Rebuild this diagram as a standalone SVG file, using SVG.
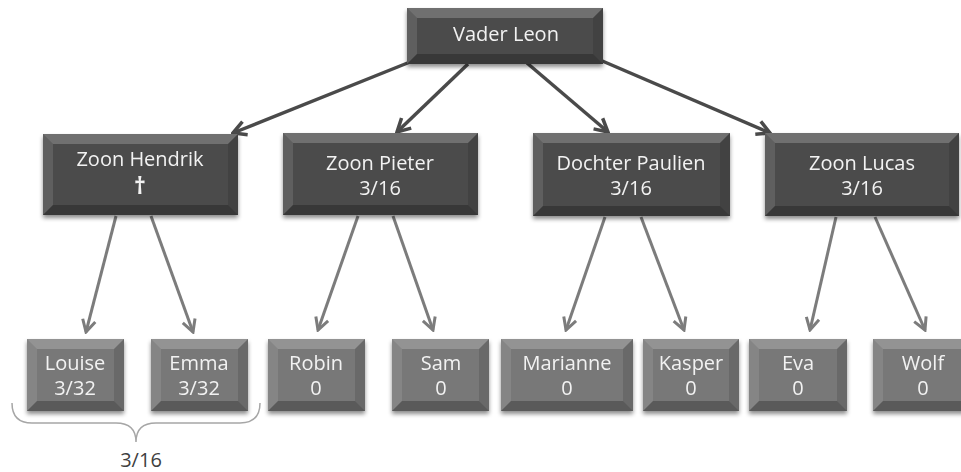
<svg xmlns="http://www.w3.org/2000/svg" width="961" height="472" viewBox="0 0 961 472">
<style>
.t1{fill:#4c4c4c}
.t2{fill:#787878}
.bt{fill:#fff;fill-opacity:0.2}
.bl{fill:#fff;fill-opacity:0.1}
.br{fill:#000;fill-opacity:0.12}
.bb{fill:#000;fill-opacity:0.25}
.lbl{font-family:"Open Sans","Noto Sans","DejaVu Sans",sans-serif;font-size:20px;fill:#f2f2f2;text-anchor:middle}
.c1{stroke:#4a4a4a;stroke-width:3.5;fill:none;marker-end:url(#a1)}
.c2{stroke:#7c7c7c;stroke-width:3;fill:none;marker-end:url(#a2)}
</style>
<defs>
<filter id="sh" x="-10%" y="-10%" width="120%" height="140%">
<feDropShadow dx="0" dy="3" stdDeviation="2" flood-color="#000" flood-opacity="0.45"/>
</filter>
<marker id="a1" viewBox="-16 -9 18 18" markerWidth="18" markerHeight="18" refX="0" refY="0" orient="auto" markerUnits="userSpaceOnUse">
<path d="M-13,-7 L0,0 L-13,7" fill="none" stroke="#4a4a4a" stroke-width="3.5"/>
</marker>
<marker id="a2" viewBox="-16 -9 18 18" markerWidth="18" markerHeight="18" refX="0" refY="0" orient="auto" markerUnits="userSpaceOnUse">
<path d="M-12,-6.5 L0,0 L-12,6.5" fill="none" stroke="#7c7c7c" stroke-width="3"/>
</marker>
</defs>
<rect width="961" height="472" fill="#fff"/>

<g id="connectors">
<line class="c1" x1="410" y1="62" x2="233" y2="133"/>
<line class="c1" x1="468" y1="64" x2="397" y2="132"/>
<line class="c1" x1="527" y1="63" x2="608" y2="132"/>
<line class="c1" x1="600" y1="60" x2="770" y2="133"/>
<line class="c2" x1="116" y1="216" x2="86" y2="332"/>
<line class="c2" x1="151" y1="216" x2="193" y2="332"/>
<line class="c2" x1="358" y1="216" x2="318" y2="330"/>
<line class="c2" x1="393" y1="216" x2="433" y2="330"/>
<line class="c2" x1="605" y1="217" x2="566" y2="330"/>
<line class="c2" x1="641" y1="217" x2="684" y2="330"/>
<line class="c2" x1="836" y1="217" x2="810" y2="330"/>
<line class="c2" x1="875" y1="217" x2="925" y2="330"/>
</g>

<g id="vader" filter="url(#sh)">
<rect class="t1" x="407" y="8" width="196" height="56"/>
<polygon class="bt" points="407,8 603,8 593,18 417,18"/>
<polygon class="bl" points="407,8 417,18 417,54 407,64"/>
<polygon class="br" points="603,8 603,64 593,54 593,18"/>
<polygon class="bb" points="407,64 417,54 593,54 603,64"/>
<text class="lbl" x="506" y="41">Vader Leon</text>
</g>

<g id="hendrik" filter="url(#sh)">
<rect class="t1" x="43" y="134" width="195" height="81"/>
<polygon class="bt" points="43,134 238,134 228,144 53,144"/>
<polygon class="bl" points="43,134 53,144 53,205 43,215"/>
<polygon class="br" points="238,134 238,215 228,205 228,144"/>
<polygon class="bb" points="43,215 53,205 228,205 238,215"/>
<text class="lbl" x="140" y="166">Zoon Hendrik</text>
<text class="lbl" x="140" y="194" style="font-weight:bold;font-size:23px">†</text>
</g>

<g id="pieter" filter="url(#sh)">
<rect class="t1" x="283" y="133" width="195" height="82"/>
<polygon class="bt" points="283,133 478,133 468,143 293,143"/>
<polygon class="bl" points="283,133 293,143 293,205 283,215"/>
<polygon class="br" points="478,133 478,215 468,205 468,143"/>
<polygon class="bb" points="283,215 293,205 468,205 478,215"/>
<text class="lbl" x="380" y="170">Zoon Pieter</text>
<text class="lbl" x="380" y="195">3/16</text>
</g>

<g id="paulien" filter="url(#sh)">
<rect class="t1" x="533" y="133" width="197" height="83"/>
<polygon class="bt" points="533,133 730,133 720,143 543,143"/>
<polygon class="bl" points="533,133 543,143 543,206 533,216"/>
<polygon class="br" points="730,133 730,216 720,206 720,143"/>
<polygon class="bb" points="533,216 543,206 720,206 730,216"/>
<text class="lbl" x="631" y="170">Dochter Paulien</text>
<text class="lbl" x="631" y="195">3/16</text>
</g>

<g id="lucas" filter="url(#sh)">
<rect class="t1" x="765" y="133" width="194" height="83"/>
<polygon class="bt" points="765,133 959,133 949,143 775,143"/>
<polygon class="bl" points="765,133 775,143 775,206 765,216"/>
<polygon class="br" points="959,133 959,216 949,206 949,143"/>
<polygon class="bb" points="765,216 775,206 949,206 959,216"/>
<text class="lbl" x="862" y="170">Zoon Lucas</text>
<text class="lbl" x="862" y="195">3/16</text>
</g>

<g id="louise" filter="url(#sh)">
<rect class="t2" x="27" y="339" width="97" height="72"/>
<polygon class="bt" points="27,339 124,339 114,349 37,349"/>
<polygon class="bl" points="27,339 37,349 37,401 27,411"/>
<polygon class="br" points="124,339 124,411 114,401 114,349"/>
<polygon class="bb" points="27,411 37,401 114,401 124,411"/>
<text class="lbl" x="75" y="370">Louise</text>
<text class="lbl" x="75" y="395">3/32</text>
</g>

<g id="emma" filter="url(#sh)">
<rect class="t2" x="151" y="339" width="97" height="72"/>
<polygon class="bt" points="151,339 248,339 238,349 161,349"/>
<polygon class="bl" points="151,339 161,349 161,401 151,411"/>
<polygon class="br" points="248,339 248,411 238,401 238,349"/>
<polygon class="bb" points="151,411 161,401 238,401 248,411"/>
<text class="lbl" x="199" y="370">Emma</text>
<text class="lbl" x="199" y="395">3/32</text>
</g>

<g id="robin" filter="url(#sh)">
<rect class="t2" x="268" y="339" width="97" height="72"/>
<polygon class="bt" points="268,339 365,339 355,349 278,349"/>
<polygon class="bl" points="268,339 278,349 278,401 268,411"/>
<polygon class="br" points="365,339 365,411 355,401 355,349"/>
<polygon class="bb" points="268,411 278,401 355,401 365,411"/>
<text class="lbl" x="316" y="370">Robin</text>
<text class="lbl" x="316" y="395">0</text>
</g>

<g id="sam" filter="url(#sh)">
<rect class="t2" x="392" y="339" width="97" height="72"/>
<polygon class="bt" points="392,339 489,339 479,349 402,349"/>
<polygon class="bl" points="392,339 402,349 402,401 392,411"/>
<polygon class="br" points="489,339 489,411 479,401 479,349"/>
<polygon class="bb" points="392,411 402,401 479,401 489,411"/>
<text class="lbl" x="441" y="370">Sam</text>
<text class="lbl" x="441" y="395">0</text>
</g>

<g id="marianne" filter="url(#sh)">
<rect class="t2" x="501" y="339" width="132" height="72"/>
<polygon class="bt" points="501,339 633,339 623,349 511,349"/>
<polygon class="bl" points="501,339 511,349 511,401 501,411"/>
<polygon class="br" points="633,339 633,411 623,401 623,349"/>
<polygon class="bb" points="501,411 511,401 623,401 633,411"/>
<text class="lbl" x="567" y="370">Marianne</text>
<text class="lbl" x="567" y="395">0</text>
</g>

<g id="kasper" filter="url(#sh)">
<rect class="t2" x="643" y="339" width="96" height="72"/>
<polygon class="bt" points="643,339 739,339 729,349 653,349"/>
<polygon class="bl" points="643,339 653,349 653,401 643,411"/>
<polygon class="br" points="739,339 739,411 729,401 729,349"/>
<polygon class="bb" points="643,411 653,401 729,401 739,411"/>
<text class="lbl" x="691" y="370">Kasper</text>
<text class="lbl" x="691" y="395">0</text>
</g>

<g id="eva" filter="url(#sh)">
<rect class="t2" x="749" y="339" width="98" height="72"/>
<polygon class="bt" points="749,339 847,339 837,349 759,349"/>
<polygon class="bl" points="749,339 759,349 759,401 749,411"/>
<polygon class="br" points="847,339 847,411 837,401 837,349"/>
<polygon class="bb" points="749,411 759,401 837,401 847,411"/>
<text class="lbl" x="798" y="370">Eva</text>
<text class="lbl" x="798" y="395">0</text>
</g>

<g id="wolf" filter="url(#sh)">
<rect class="t2" x="873" y="339" width="100" height="72"/>
<polygon class="bt" points="873,339 973,339 963,349 883,349"/>
<polygon class="bl" points="873,339 883,349 883,401 873,411"/>
<polygon class="bb" points="873,411 883,401 963,401 973,411"/>
<text class="lbl" x="923" y="370">Wolf</text>
<text class="lbl" x="923" y="395">0</text>
</g>

<g id="brace">
<path d="M12,403 Q12,423 32,423 L116,423 Q136,423 136,442 Q136,423 156,423 L240,423 Q260,423 260,403" fill="none" stroke="#a6a6a6" stroke-width="1.5"/>
<text x="141" y="467" style="font-family:'Open Sans','Noto Sans',sans-serif;font-size:20px;fill:#404040;text-anchor:middle">3/16</text>
</g>
</svg>
